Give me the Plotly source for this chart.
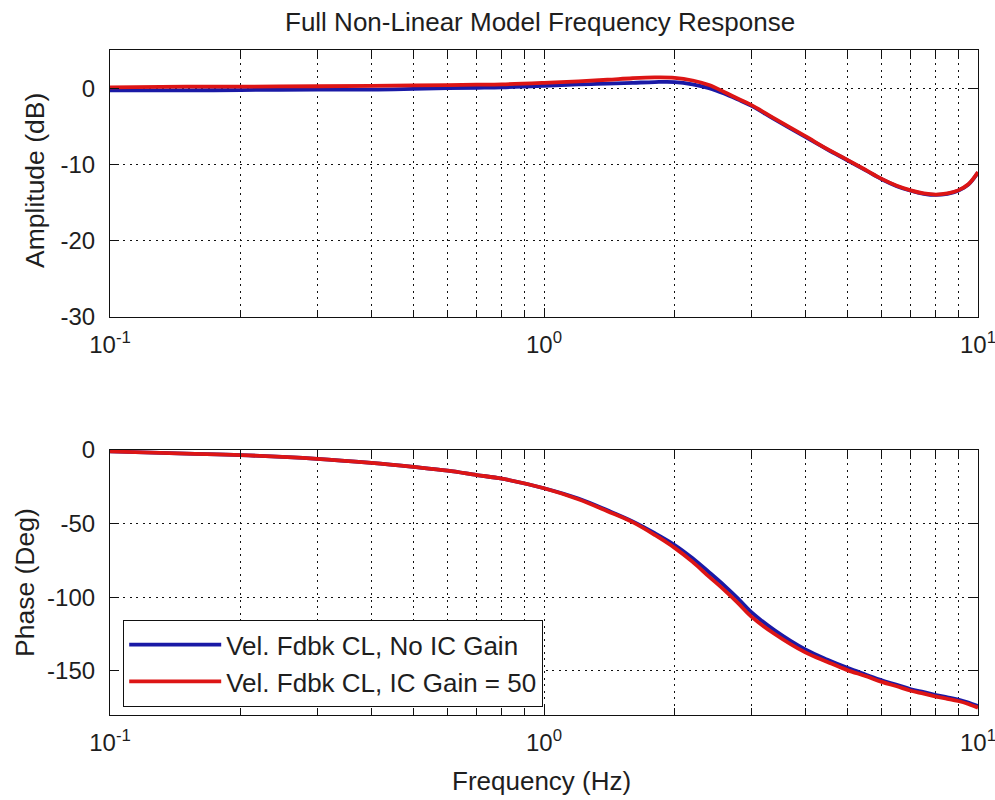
import plotly.graph_objects as go
from plotly.subplots import make_subplots

# ---- data ----
freq = [0.1, 0.15, 0.2, 0.3, 0.4, 0.5, 0.6, 0.7, 0.8, 1.0, 1.2, 1.4, 1.6, 1.8,
        2.0, 2.2, 2.4, 2.6, 2.8, 3.0, 3.4, 4.0, 4.5, 5.0, 5.5, 6.0, 6.5, 7.0,
        7.5, 8.0, 8.5, 9.0, 9.5, 10.0]

amp_no_ic = [-0.3, -0.3, -0.25, -0.2, -0.2, -0.1, 0.0, 0.05, 0.1, 0.3, 0.5, 0.6,
             0.7, 0.8, 0.8, 0.5, 0.0, -0.7, -1.5, -2.3, -4.1, -6.4, -8.05, -9.45,
             -10.75, -11.95, -12.85, -13.45, -13.85, -14.0, -13.85, -13.45, -12.65, -11.05]
amp_ic50 = [0.1, 0.2, 0.2, 0.25, 0.3, 0.35, 0.4, 0.45, 0.5, 0.7, 0.9, 1.1,
            1.3, 1.4, 1.35, 1.0, 0.4, -0.5, -1.4, -2.2, -4.0, -6.3, -8.0, -9.4,
            -10.7, -11.9, -12.8, -13.4, -13.8, -13.95, -13.8, -13.4, -12.6, -11.0]

phase_no_ic = [-1.0, -2.5, -3.5, -6.0, -8.8, -11.5, -14.0, -17.0, -19.5, -26.0,
               -33.0, -41.0, -48.5, -56.5, -64.5, -73.5, -83.0, -92.0, -101.0,
               -110.0, -122.5, -135.5, -142.5, -148.0, -152.5, -156.5, -159.5,
               -162.5, -164.5, -166.5, -168.0, -169.5, -171.5, -174.0]
phase_ic50 = [-1.0, -2.5, -3.5, -6.0, -8.8, -11.5, -14.0, -17.0, -19.5, -26.0,
              -33.5, -41.6, -49.0, -57.7, -66.5, -76.0, -86.0, -95.0, -104.0,
              -113.0, -125.0, -137.5, -144.0, -149.5, -153.5, -157.5, -160.5,
              -163.5, -165.5, -167.5, -169.0, -170.5, -172.5, -175.0]

series_names = ["Vel. Fdbk CL, No IC Gain", "Vel. Fdbk CL, IC Gain = 50"]
x_major = [0.1, 1, 10]
x_major_text = ["10<sup>-1</sup>", "10<sup>0</sup>", "10<sup>1</sup>"]
x_minor = [0.2, 0.3, 0.4, 0.5, 0.6, 0.7, 0.8, 0.9, 2, 3, 4, 5, 6, 7, 8, 9]
amp_ticks = [0, -10, -20, -30]
amp_tick_text = ["0", "-10", "-20", "-30"]
phase_ticks = [0, -50, -100, -150]
phase_tick_text = ["0", "-50", "-100", "-150"]

title_text = "Full Non-Linear Model Frequency Response"
amp_label = "Amplitude (dB)"
phase_label = "Phase (Deg)"
freq_label = "Frequency (Hz)"

# ---- styling ----
BLUE = "#1a1aa6"
RED = "#dd1515"
FONT = "Liberation Sans, Arial, sans-serif"
TXT = "#1e1e1e"
ML, MR, MT, MB = 110, 17, 50, 85
W, H = 995, 800
PH = H - MT - MB
PW = W - ML - MR


def py(ypx):
    return (H - MB - ypx) / PH


def px(xpx):
    return (xpx - ML) / PW


fig = make_subplots(rows=2, cols=1, vertical_spacing=0.2)

fig.add_trace(go.Scatter(x=freq, y=amp_no_ic, mode="lines", name=series_names[0],
                         line=dict(color=BLUE, width=3.8, shape="spline"),
                         legendgroup="a"), row=1, col=1)
fig.add_trace(go.Scatter(x=freq, y=amp_ic50, mode="lines", name=series_names[1],
                         line=dict(color=RED, width=3.8, shape="spline"),
                         legendgroup="b"), row=1, col=1)
fig.add_trace(go.Scatter(x=freq, y=phase_no_ic, mode="lines", name=series_names[0],
                         line=dict(color=BLUE, width=3.8, shape="spline"),
                         showlegend=False, legendgroup="a"), row=2, col=1)
fig.add_trace(go.Scatter(x=freq, y=phase_ic50, mode="lines", name=series_names[1],
                         line=dict(color=RED, width=3.8, shape="spline"),
                         showlegend=False, legendgroup="b"), row=2, col=1)

grid_style = dict(showgrid=True, gridcolor="#111111", griddash="2px,4.5px", gridwidth=1.2)

xaxis_common = dict(
    type="log", range=[-1, 1],
    tickmode="array", tickvals=x_major, ticktext=x_major_text,
    ticks="inside", ticklen=9, tickwidth=1, tickcolor="#111",
    showline=True, linecolor="#111", linewidth=1.2, mirror="ticks",
    minor=dict(tickmode="array", tickvals=x_minor, ticks="inside", ticklen=7,
               tickwidth=1, tickcolor="#111", **grid_style),
    tickfont=dict(family=FONT, size=24, color=TXT),
    ticklabelstandoff=6, ticklabeloverflow="allow",
    zeroline=False,
    **grid_style,
)

yaxis_common = dict(
    ticks="inside", ticklen=9, tickwidth=1, tickcolor="#111",
    showline=True, linecolor="#111", linewidth=1.2, mirror="ticks",
    tickfont=dict(family=FONT, size=24, color=TXT),
    ticklabelstandoff=9, zeroline=False, tickmode="array",
    ticklabeloverflow="allow",
    **grid_style,
)

fig.update_layout(
    xaxis=dict(domain=[0, 1], anchor="y", **xaxis_common),
    xaxis2=dict(domain=[0, 1], anchor="y2", **xaxis_common),
    yaxis=dict(domain=[py(317), py(50)], range=[-30, 5], tickvals=amp_ticks,
               ticktext=amp_tick_text, anchor="x", **yaxis_common),
    yaxis2=dict(domain=[py(715), py(450)], range=[-180, 0], tickvals=phase_ticks,
                ticktext=phase_tick_text, anchor="x2", **yaxis_common),
)

fig.update_layout(
    width=W, height=H,
    margin=dict(l=ML, r=MR, t=MT, b=MB, autoexpand=False),
    paper_bgcolor="white", plot_bgcolor="white",
    font=dict(family=FONT, size=24, color=TXT),
    showlegend=True,
    legend=dict(
        x=px(123), y=py(620), xanchor="left", yanchor="top",
        bgcolor="white", bordercolor="#111", borderwidth=1.2,
        font=dict(family=FONT, size=26, color=TXT),
        itemwidth=92, tracegroupgap=0,
    ),
    annotations=[
        dict(text=title_text, xref="paper", yref="paper", x=px(540), y=py(22),
             xanchor="center", yanchor="middle", showarrow=False,
             font=dict(family=FONT, size=26, color=TXT)),
        dict(text=amp_label, xref="paper", yref="paper", x=px(35), y=py(181),
             xanchor="center", yanchor="middle", showarrow=False, textangle=-90,
             font=dict(family=FONT, size=26.5, color=TXT)),
        dict(text=phase_label, xref="paper", yref="paper", x=px(25), y=py(583),
             xanchor="center", yanchor="middle", showarrow=False, textangle=-90,
             font=dict(family=FONT, size=26.5, color=TXT)),
        dict(text=freq_label, xref="paper", yref="paper", x=px(541), y=py(781),
             xanchor="center", yanchor="middle", showarrow=False,
             font=dict(family=FONT, size=26, color=TXT)),
    ],
)

fig.write_html("out.html")
